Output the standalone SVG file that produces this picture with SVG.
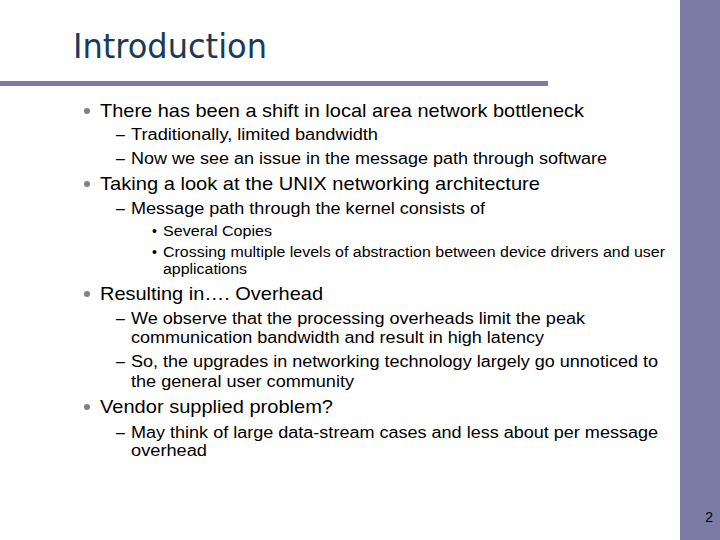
<svg xmlns="http://www.w3.org/2000/svg" width="720" height="540" viewBox="0 0 720 540">
<style>
text{font-family:"Liberation Sans",Arial,sans-serif;fill:#000}
.l1{font-size:19px}
.l2{font-size:16px}
.l3{font-size:14px}
.b{fill:#808080}
</style>
<rect width="720" height="540" fill="#fff"/>
<rect x="680" y="0" width="40" height="540" fill="#7b7ba6"/>
<rect x="0" y="81" width="548" height="5" fill="#7b7ba6"/>
<text x="73" y="58" textLength="194" lengthAdjust="spacingAndGlyphs" style="font-family:'DejaVu Sans Condensed','DejaVu Sans',sans-serif;font-size:33px;fill:#1a3a5c">Introduction</text>
<g id="body">
<circle class="b" cx="87" cy="111" r="3"/>
<text class="l1" x="100" y="117" textLength="484" lengthAdjust="spacingAndGlyphs">There has been a shift in local area network bottleneck</text>
<text class="l2" x="116" y="140">–</text>
<text class="l2" x="131" y="140" textLength="247" lengthAdjust="spacingAndGlyphs">Traditionally, limited bandwidth</text>
<text class="l2" x="116" y="164">–</text>
<text class="l2" x="131" y="164" textLength="476" lengthAdjust="spacingAndGlyphs">Now we see an issue in the message path through software</text>
<circle class="b" cx="87" cy="184" r="3"/>
<text class="l1" x="100" y="190" textLength="440" lengthAdjust="spacingAndGlyphs">Taking a look at the UNIX networking architecture</text>
<text class="l2" x="116" y="214">–</text>
<text class="l2" x="131" y="214" textLength="354" lengthAdjust="spacingAndGlyphs">Message path through the kernel consists of</text>
<text class="l3" x="152" y="236">•</text>
<text class="l3" x="163" y="236" textLength="109" lengthAdjust="spacingAndGlyphs">Several Copies</text>
<text class="l3" x="152" y="257">•</text>
<text class="l3" x="163" y="257" textLength="502" lengthAdjust="spacingAndGlyphs">Crossing multiple levels of abstraction between device drivers and user</text>
<text class="l3" x="163" y="274" textLength="84" lengthAdjust="spacingAndGlyphs">applications</text>
<circle class="b" cx="87" cy="294" r="3"/>
<text class="l1" x="100" y="300" textLength="223" lengthAdjust="spacingAndGlyphs">Resulting in…. Overhead</text>
<text class="l2" x="116" y="324">–</text>
<text class="l2" x="131" y="324" textLength="454" lengthAdjust="spacingAndGlyphs">We observe that the processing overheads limit the peak</text>
<text class="l2" x="131" y="343" textLength="413" lengthAdjust="spacingAndGlyphs">communication bandwidth and result in high latency</text>
<text class="l2" x="116" y="367">–</text>
<text class="l2" x="131" y="367" textLength="527" lengthAdjust="spacingAndGlyphs">So, the upgrades in networking technology largely go unnoticed to</text>
<text class="l2" x="131" y="387" textLength="223" lengthAdjust="spacingAndGlyphs">the general user community</text>
<circle class="b" cx="87" cy="407" r="3"/>
<text class="l1" x="100" y="413" textLength="233" lengthAdjust="spacingAndGlyphs">Vendor supplied problem?</text>
<text class="l2" x="116" y="438">–</text>
<text class="l2" x="131" y="438" textLength="527" lengthAdjust="spacingAndGlyphs">May think of large data-stream cases and less about per message</text>
<text class="l2" x="131" y="456" textLength="76" lengthAdjust="spacingAndGlyphs">overhead</text>
</g>
<text x="713" y="522" text-anchor="end" style="font-size:14px;fill:#000">2</text>
</svg>
